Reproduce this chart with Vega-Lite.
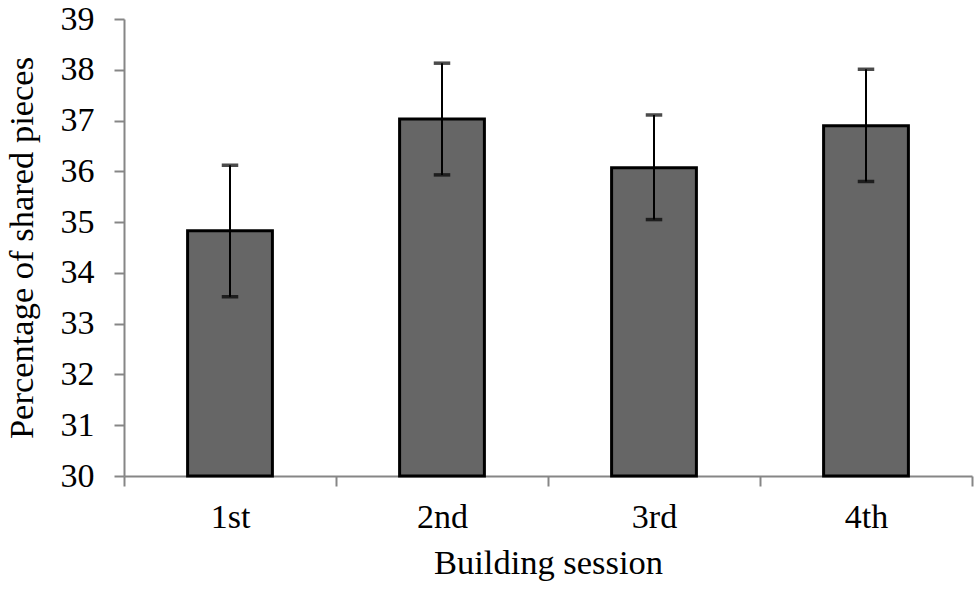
{
  "$schema": "https://vega.github.io/schema/vega-lite/v6.json",
  "width": 848,
  "height": 457,
  "autosize": {"type": "none"},
  "padding": {"left": 124, "top": 19, "right": 8, "bottom": 113},
  "background": "white",
  "data": {
    "values": [
      {"session": "1st", "mean": 34.83, "low": 33.53, "high": 36.12},
      {"session": "2nd", "mean": 37.03, "low": 35.93, "high": 38.13},
      {"session": "3rd", "mean": 36.07, "low": 35.05, "high": 37.11},
      {"session": "4th", "mean": 36.9, "low": 35.8, "high": 38.01}
    ]
  },
  "encoding": {
    "x": {
      "field": "session",
      "type": "nominal",
      "sort": null,
      "scale": {"paddingInner": 0, "paddingOuter": 0},
      "axis": {
        "title": "Building session",
        "labelAngle": 0,
        "tickBand": "extent",
        "tickSize": 10,
        "labelPadding": 14,
        "titlePadding": 12
      }
    }
  },
  "layer": [
    {
      "mark": {"type": "bar", "fill": "#666666", "stroke": "black", "strokeWidth": 3, "width": {"band": 0.4}},
      "encoding": {
        "y": {
          "field": "mean",
          "type": "quantitative",
          "title": "Percentage of shared pieces",
          "scale": {"domain": [30, 39], "nice": false, "zero": false},
          "axis": {
            "values": [30, 31, 32, 33, 34, 35, 36, 37, 38, 39],
            "tickSize": 10,
            "labelPadding": 20,
            "titlePadding": 21,
            "grid": false
          }
        },
        "y2": {"datum": 30}
      }
    },
    {
      "mark": {"type": "errorbar", "ticks": {"size": 14, "stroke": "black", "strokeWidth": 2.5}, "rule": {"stroke": "black", "strokeWidth": 2}},
      "encoding": {
        "y": {"field": "low", "type": "quantitative", "title": "Percentage of shared pieces"},
        "y2": {"field": "high"}
      }
    }
  ],
  "config": {
    "font": "Liberation Serif",
    "view": {"stroke": null},
    "axis": {
      "labelFont": "Liberation Serif",
      "titleFont": "Liberation Serif",
      "labelFontSize": 34,
      "titleFontSize": 34.5,
      "labelColor": "black",
      "titleColor": "black",
      "titleFontWeight": "normal",
      "domainColor": "#868686",
      "tickColor": "#868686",
      "domainWidth": 2,
      "tickWidth": 2
    }
  }
}
